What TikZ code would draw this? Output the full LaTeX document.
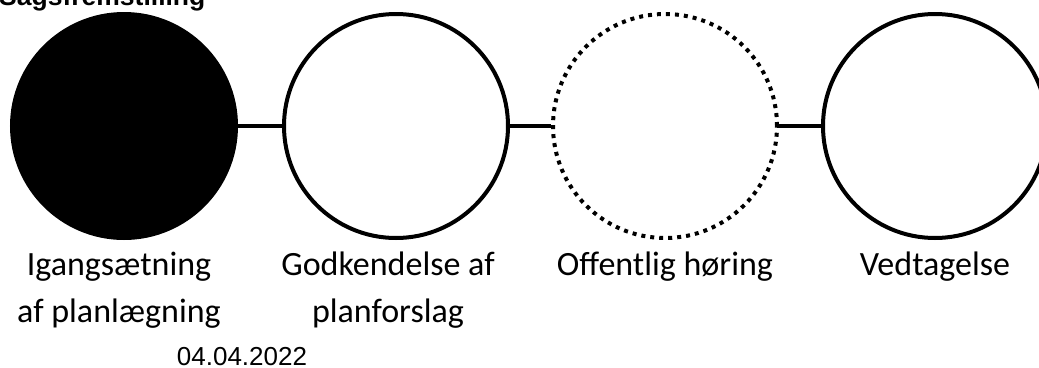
\documentclass[tikz,border=0pt]{standalone}
\usepackage{fontspec}
\setmainfont{Carlito}
\newfontfamily\arialfont{Liberation Sans}
\begin{document}
\begin{tikzpicture}[x=1pt,y=-1pt,
  stage/.style={circle, draw=black, line width=4pt, minimum size=224pt, inner sep=0pt, fill=white},
  link/.style={line width=4pt},
  lbl/.style={font=\fontsize{34}{47}\selectfont, align=center, anchor=base, inner sep=0pt}]
\useasboundingbox (0,0) rectangle (1039,367);
\node[anchor=base west, inner sep=0pt, font=\arialfont\bfseries\fontsize{26.5}{30}\selectfont] (title) at (-1,5) {Sagsfremstilling};
\node[stage, fill=black] (s1) at (124,126) {};
\node[stage] (s2) at (396,126) {};
\node[stage, dash pattern=on 4pt off 5pt] (s3) at (665,126) {};
\node[stage] (s4) at (935,126) {};
\draw[link] (s1) -- (s2);
\draw[link] (s2) -- (s3);
\draw[link] (s3) -- (s4);
\node[lbl] (l1) at (119,322) {Igangsætning\\af planlægning};
\node[lbl] (l2) at (388,322) {Godkendelse af\\planforslag};
\node[lbl] (l3) at (665,275) {Offentlig høring};
\node[lbl] (l4) at (935,275) {Vedtagelse};
\node[anchor=base, inner sep=0pt, font=\arialfont\fontsize{26}{30}\selectfont] (date) at (242,365) {04.04.2022};
\end{tikzpicture}
\end{document}
